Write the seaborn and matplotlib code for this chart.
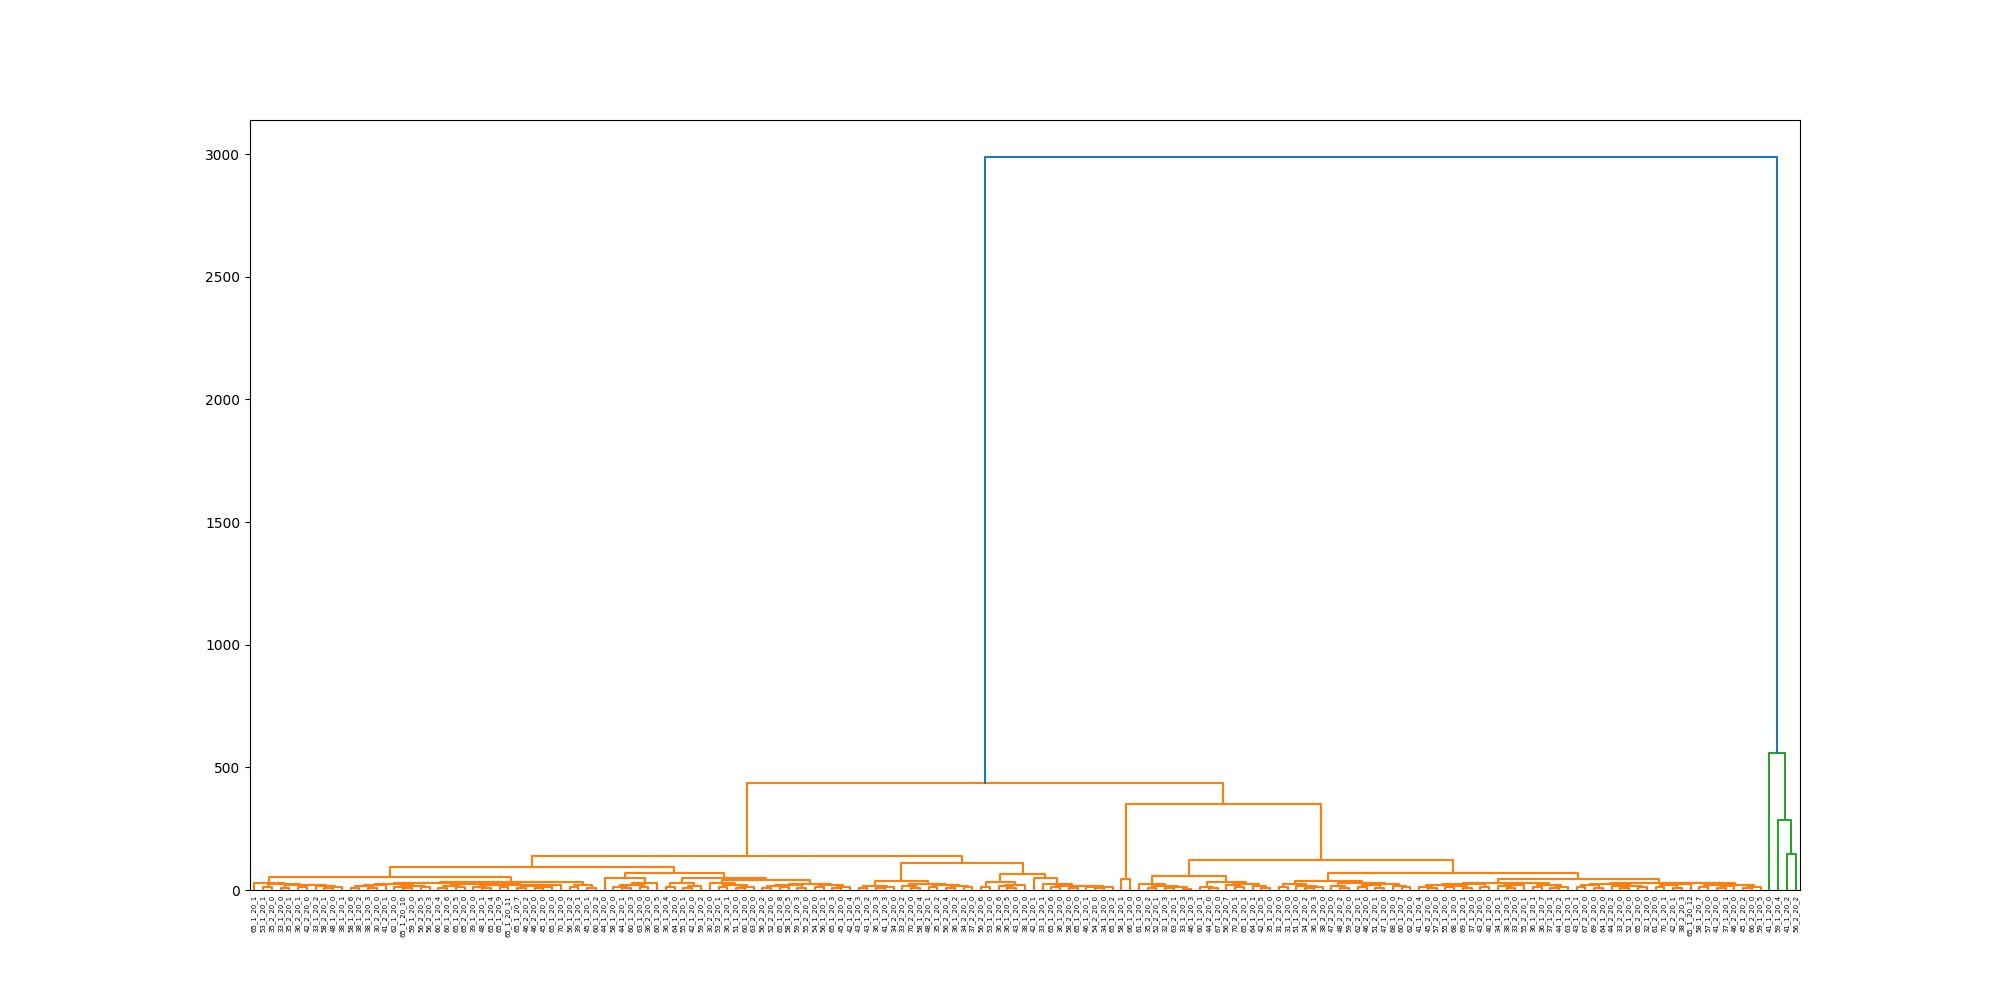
import numpy as np
import pandas as pd
import matplotlib
matplotlib.use("Agg")
import matplotlib.pyplot as plt
import seaborn as sns

# ---- leaf labels in display order ----
leaf_labels = [
    "65_1_20_1", "53_1_20_1", "35_2_20_0", "33_1_20_0", "35_2_20_1", "36_2_20_1", "42_2_20_0", "33_1_20_2",
    "58_2_20_1", "48_1_20_0", "38_1_20_1", "58_1_20_6", "38_1_20_2", "38_1_20_3", "30_2_20_0", "41_2_20_1",
    "62_1_20_0", "65_1_20_10", "59_1_20_0", "56_2_20_5", "56_2_20_3", "60_1_20_4",
    "60_1_20_6", "65_1_20_5", "65_2_20_0", "39_1_20_0", "48_1_20_1", "65_1_20_4", "65_1_20_9", "65_1_20_11",
    "65_1_20_7", "46_2_20_2", "46_2_20_0", "45_1_20_0", "65_1_20_0", "70_1_20_0", "56_1_20_2", "39_1_20_1",
    "45_1_20_1", "60_1_20_2", "44_1_20_0", "58_1_20_0", "44_1_20_1", "60_1_20_3",
    "63_1_20_0", "36_2_20_0", "60_1_20_5", "36_1_20_4", "64_1_20_0", "55_1_20_1", "42_1_20_0", "59_1_20_2",
    "30_2_20_0", "53_2_20_1", "36_1_20_1", "51_1_20_0", "60_1_20_0", "63_2_20_0", "56_2_20_2", "52_2_20_0",
    "65_1_20_8", "58_1_20_5", "59_1_20_3", "55_2_20_0", "54_1_20_0", "56_1_20_1", "65_1_20_3",
    "45_1_20_0", "42_1_20_4", "43_1_20_3", "43_1_20_2", "36_1_20_3", "41_1_20_3", "34_2_20_0", "33_2_20_2",
    "70_2_20_0", "58_1_20_4", "48_2_20_1", "35_1_20_2", "56_2_20_4", "36_1_20_2", "34_2_20_1", "37_2_20_0",
    "56_2_20_6", "53_1_20_0", "36_1_20_6", "36_1_20_5", "43_1_20_0", "38_1_20_0",
    "42_1_20_1", "33_1_20_1", "65_1_20_6", "36_1_20_0", "58_2_20_0", "65_1_20_0", "46_1_20_1", "54_2_20_0",
    "34_1_20_0", "65_1_20_2", "58_1_20_1", "66_1_20_0", "61_1_20_0", "35_2_20_2", "52_2_20_1", "32_1_20_3",
    "63_2_20_1", "33_1_20_3", "46_1_20_3", "60_1_20_1", "44_2_20_0", "67_1_20_0",
    "56_2_20_7", "70_2_20_1", "65_1_20_1", "64_1_20_1", "42_1_20_5", "35_1_20_0", "31_2_20_0", "31_1_20_0",
    "51_1_20_0", "34_2_20_2", "36_1_20_3", "38_2_20_0", "47_2_20_0", "48_2_20_2", "59_2_20_0", "62_2_20_1",
    "46_2_20_0", "51_2_20_1", "47_1_20_0", "68_1_20_0", "60_1_20_7", "62_2_20_0", "41_1_20_4",
    "45_2_20_0", "57_2_20_0", "55_1_20_0", "68_1_20_0", "69_1_20_1", "37_1_20_0", "43_2_20_0", "40_1_20_0",
    "34_1_20_1", "38_1_20_3", "33_2_20_0", "55_2_20_1", "36_1_20_1", "36_1_20_7", "37_1_20_1", "44_1_20_2",
    "63_1_20_1", "43_1_20_1", "67_2_20_0", "69_2_20_0", "64_1_20_0", "44_2_20_2",
    "33_2_20_0", "52_1_20_0", "65_2_20_0", "32_1_20_0", "61_2_20_0", "70_1_20_1", "42_2_20_1", "38_2_20_3",
    "65_1_20_12", "58_1_20_7", "57_1_20_0", "41_2_20_0", "37_1_20_1", "46_2_20_0", "45_1_20_2", "66_2_20_0",
    "59_1_20_5", "41_1_20_0", "59_1_20_4", "41_1_20_2", "56_2_20_2",
]

# ---- merge height between neighbouring leaves (cophenetic distance of leaf i and i+1) ----
merge_heights = [
    27, 12, 23, 8, 21, 11, 19, 15, 7, 12,                 # 0-9
    54, 10, 15, 8, 20, 24, 12, 8, 18, 13,                 # 10-19
    30, 9, 16, 11, 26, 14, 7, 19, 12, 22,                 # 20-29
    10, 17, 8, 13, 21, 34, 12, 19, 8, 92,                 # 30-39
    47, 14, 9, 22, 12, 28, 68, 12, 27, 10,                # 40-49
    16, 50, 27, 12, 20, 8, 14, 41, 10, 18,                # 50-59
    13, 21, 9, 26, 14, 19, 8, 12, 140, 10,                # 60-69
    16, 7, 13, 37, 15, 9, 24, 12, 20, 8,                  # 70-79
    17, 11, 109, 12, 34, 16, 9, 21, 64, 50,               # 80-89
    23, 13, 18, 9, 15, 11, 7, 12, 435, 43,                # 90-99
    350, 23, 10, 17, 8, 13, 6, 57, 14, 9,                 # 100-109
    34, 20, 11, 24, 16, 9, 122, 14, 24, 17,               # 110-119
    9, 12, 38, 18, 10, 28, 13, 20, 8, 24,                 # 120-129
    15, 11, 71, 13, 8, 20, 11, 17, 9, 23,                 # 130-139
    14, 30, 16, 10, 22, 27, 12, 19, 8, 14,                # 140-149
    45, 12, 20, 9, 24, 15, 7, 18, 11, 28,                 # 150-159
    13, 19, 9, 25, 27, 14, 20, 10, 16, 22,                # 160-169
    8, 12, 2990, 560, 285, 145,                           # 170-175
]

link_palette = {"C0": "#1f77b4", "C1": "#ff7f0e", "C2": "#2ca02c", "C3": "#d62728"}
cluster_cycle = ["C1", "C2", "C3"]

gaps = np.asarray(merge_heights, dtype=float)
n = len(leaf_labels)
threshold = 0.7 * gaps.max()

rows = []
counter = [0]


def leaf_x(i):
    return 5.0 + 10.0 * i


def build(lo, hi, color):
    if lo == hi:
        return leaf_x(lo), 0.0
    k = lo + int(np.argmax(gaps[lo:hi]))
    h = gaps[k]
    if h > threshold:
        own = "C0"

        def sub(a, b):
            if a == b or gaps[a:b].max() > threshold:
                return build(a, b, None)
            c = cluster_cycle[counter[0] % len(cluster_cycle)]
            counter[0] += 1
            return build(a, b, c)

        xl, hl = sub(lo, k)
        xr, hr = sub(k + 1, hi)
    else:
        own = color
        xl, hl = build(lo, k, color)
        xr, hr = build(k + 1, hi, color)
    for px, py in [(xl, hl), (xl, h), (xr, h), (xr, hr)]:
        rows.append({"x": px, "y": py, "color": own})
    return (xl + xr) / 2.0, h


build(0, n - 1, None)
df = pd.DataFrame(rows)
df["link"] = np.repeat(np.arange(len(df) // 4), 4)

fig, ax = plt.subplots(figsize=(20, 10), dpi=100)
sns.lineplot(data=df, x="x", y="y", units="link", estimator=None, sort=False,
             hue="color", palette=link_palette, legend=False, linewidth=1.5, ax=ax)

ax.set_xlim(0, 10 * n)
ax.set_ylim(0, 1.05 * gaps.max())
ax.set_xticks([leaf_x(i) for i in range(n)])
ax.set_xticklabels(leaf_labels, rotation=90, fontsize=5)
ax.tick_params(axis="x", length=0)
ax.set_xlabel("")
ax.set_ylabel("")

fig.savefig("out.png", dpi=100)
